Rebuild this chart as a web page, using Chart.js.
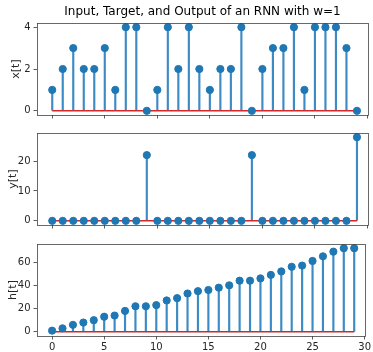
<!DOCTYPE html>
<html>
<head>
<meta charset="utf-8">
<script src="https://cdn.jsdelivr.net/npm/chart.js@4.4.0/dist/chart.umd.min.js"></script>
<style>
  html, body { margin: 0; padding: 0; background: #fff; }
  #wrap { position: relative; width: 373px; height: 352px; }
  .box { position: absolute; left: 0; width: 373px; }
</style>
</head>
<body>
<div id="wrap">
  <div class="box" style="top:0px;height:124px"><canvas id="c1"></canvas></div>
  <div class="box" style="top:124px;height:110px"><canvas id="c2"></canvas></div>
  <div class="box" style="top:234px;height:118px"><canvas id="c3"></canvas></div>
</div>
<script>
// time steps
var t = [];
for (var i = 0; i < 30; i++) t.push(i);

// input x[t]
var xVals = [1, 2, 3, 2, 2, 3, 1, 4, 4, 0, 1, 4, 2, 4, 2, 1, 2, 2, 4, 0, 2, 3, 3, 4, 1, 4, 4, 4, 3, 0];
// target y[t]
var yVals = [0, 0, 0, 0, 0, 0, 0, 0, 0, 22, 0, 0, 0, 0, 0, 0, 0, 0, 0, 22, 0, 0, 0, 0, 0, 0, 0, 0, 0, 28];
// output h[t]
var hVals = [1, 3, 6, 8, 10, 13, 14, 18, 22, 22, 23, 27, 29, 33, 35, 36, 38, 40, 44, 44, 46, 49, 52, 56, 57, 61, 65, 69, 72, 72];

var xTicks = [0, 5, 10, 15, 20, 25, 30];
var titleText = "Input, Target, and Output of an RNN with w=1";

var BLUE = '#1f77b4';
var STEM = '#3d8bc4';
var RED = '#d62728';
var FONT = "'DejaVu Sans', sans-serif";
var TXT = '#262626';

// draws the full box (matplotlib spines)
var frame = {
  id: 'frame',
  afterDraw: function (chart) {
    var a = chart.chartArea, ctx = chart.ctx;
    ctx.save();
    ctx.strokeStyle = '#444';
    ctx.lineWidth = 0.8;
    ctx.strokeRect(Math.round(a.left) + 0.5, Math.round(a.top) + 0.5,
      Math.round(a.right - a.left), Math.round(a.bottom - a.top));
    ctx.restore();
  }
};

function pts(vals) {
  return vals.map(function (v, i) { return { x: t[i], y: v }; });
}

function makeChart(id, vals, label, ymin, ymax, ystep, opts) {
  var xScaleH = opts.showX ? 16 : 8;
  return new Chart(document.getElementById(id), {
    type: 'scatter',
    data: {
      datasets: [
        {
          type: 'scatter',
          data: pts(vals),
          backgroundColor: BLUE,
          borderColor: BLUE,
          pointRadius: 3.6,
          pointHoverRadius: 3.6,
          order: 0
        },
        {
          type: 'line',
          data: [{ x: t[0], y: 0 }, { x: t[t.length - 1], y: 0 }],
          borderColor: RED,
          borderWidth: 1.6,
          pointRadius: 0,
          order: 1
        },
        {
          type: 'bar',
          data: pts(vals),
          backgroundColor: STEM,
          barThickness: 1.5,
          order: 2
        }
      ]
    },
    options: {
      responsive: true,
      maintainAspectRatio: false,
      animation: false,
      events: [],
      layout: { padding: { top: opts.padTop, right: 5, left: 0, bottom: 0 } },
      plugins: {
        legend: { display: false },
        tooltip: { enabled: false },
        title: {
          display: !!opts.title,
          text: opts.title || '',
          color: '#000',
          fullSize: false,
          align: 'center',
          font: { family: FONT, size: 12, weight: 'normal', lineHeight: 1.2 },
          padding: { top: 5, bottom: 3.6 }
        }
      },
      scales: {
        x: {
          type: 'linear',
          min: -1.45,
          max: 30.05,
          offset: false,
          afterBuildTicks: function (s) {
            s.ticks = xTicks.map(function (v) { return { value: v }; });
          },
          afterFit: function (s) { s.height = xScaleH; },
          grid: { display: true, offset: false, drawOnChartArea: false, drawTicks: true, tickLength: 3.5, color: '#333', tickWidth: 0.8 },
          border: { display: false },
          ticks: { display: opts.showX, color: TXT, font: { family: FONT, size: 10 }, padding: 2, maxRotation: 0 }
        },
        y: {
          type: 'linear',
          min: ymin,
          max: ymax,
          afterFit: function (s) { s.width = 37; },
          grid: { display: true, drawOnChartArea: false, drawTicks: true, tickLength: 3.5, color: '#333', tickWidth: 0.8 },
          border: { display: false },
          ticks: { stepSize: ystep, includeBounds: false, color: TXT, font: { family: FONT, size: 10 }, padding: 3 },
          title: {
            display: true,
            text: label,
            color: TXT,
            font: { family: FONT, size: 11 },
            padding: { top: opts.labelPad, bottom: 0 }
          }
        }
      }
    },
    plugins: [frame]
  });
}

makeChart('c1', xVals, 'x[t]', -0.2, 4.2, 2, { padTop: 0, title: titleText, showX: false, labelPad: 10 });
makeChart('c2', yVals, 'y[t]', -1.4, 29.4, 10, { padTop: 9, showX: false, labelPad: 7 });
makeChart('c3', hVals, 'h[t]', -3.6, 75.6, 20, { padTop: 10, showX: true, labelPad: 7 });
</script>
</body>
</html>
